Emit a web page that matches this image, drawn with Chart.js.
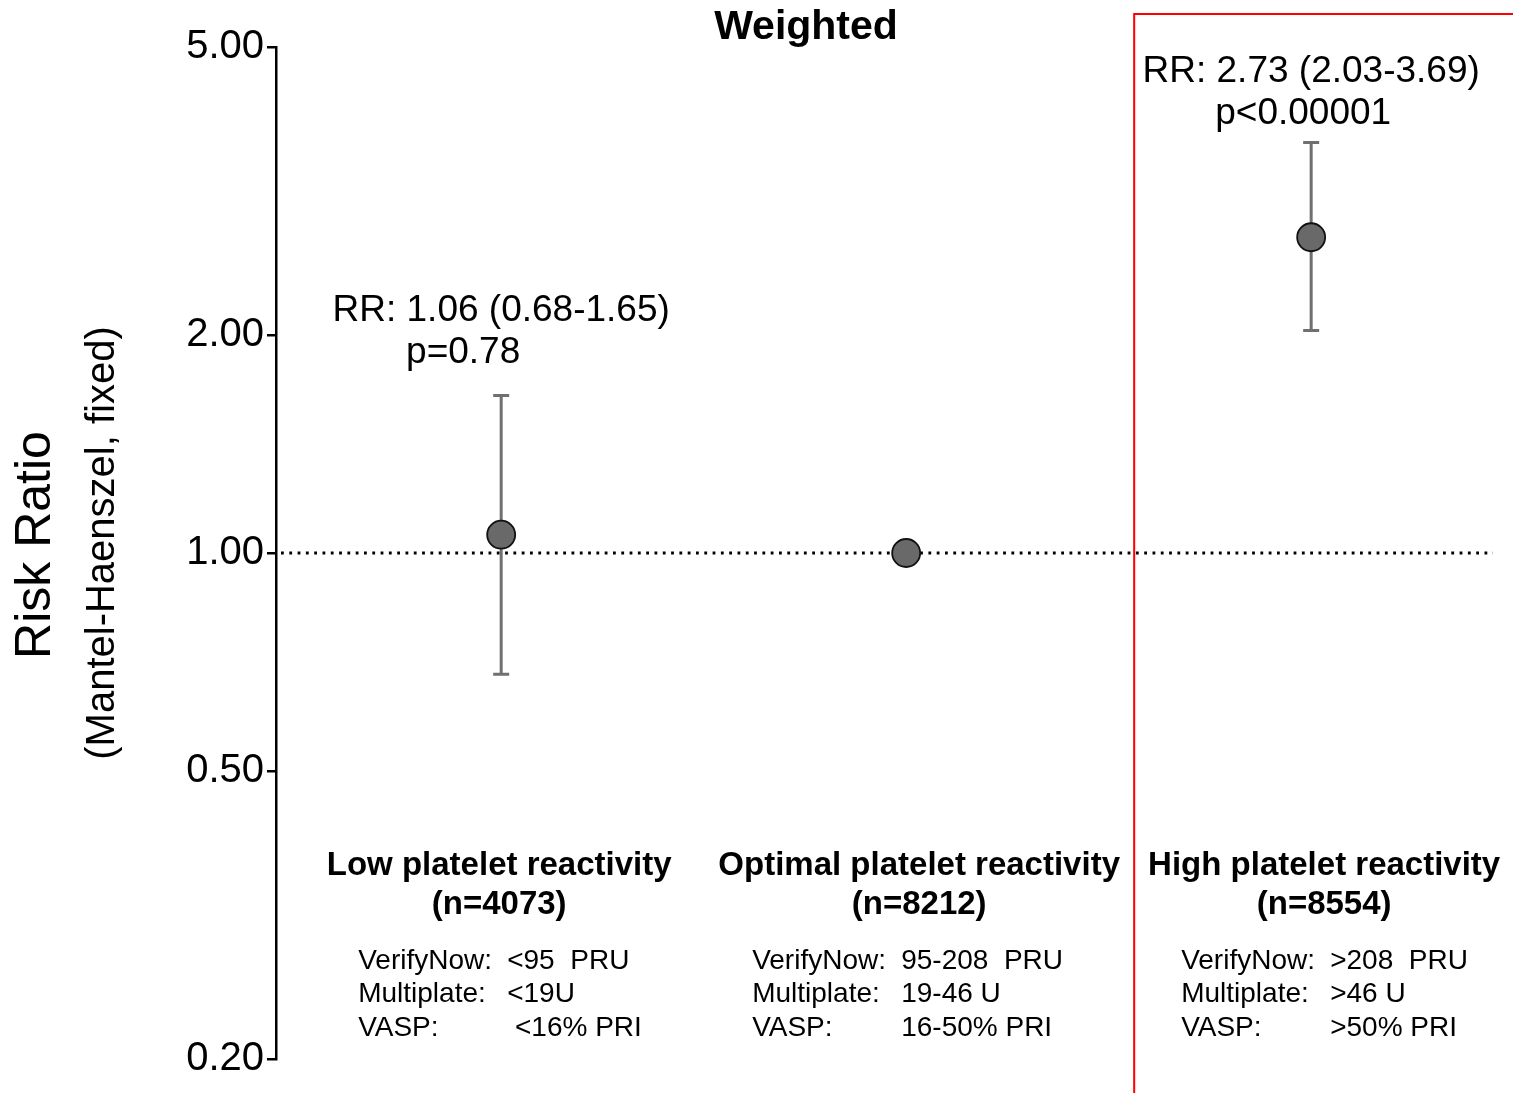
<!DOCTYPE html>
<html>
<head>
<meta charset="utf-8">
<script src="https://cdn.jsdelivr.net/npm/chart.js@4"></script>
<style>
  html, body { margin: 0; padding: 0; background: #fff; }
</style>
</head>
<body>
<canvas id="rrChart" width="1513" height="1093"></canvas>
<script>
// data
const groups = ['Low platelet reactivity', 'Optimal platelet reactivity', 'High platelet reactivity'];
const groupN = ['(n=4073)', '(n=8212)', '(n=8554)'];
const groupPos = [1, 2, 3];
const riskRatio = [1.06, 1.00, 2.73];
const ciLow = [0.68, null, 2.03];
const ciHigh = [1.65, null, 3.69];
const rrText = ['RR: 1.06 (0.68-1.65)', null, 'RR: 2.73 (2.03-3.69)'];
const pText = ['p=0.78', null, 'p<0.00001'];
const yTicks = [0.2, 0.5, 1, 2, 5];
const assayNames = ['VerifyNow:', 'Multiplate:', 'VASP:'];
const assayCuts = [
  ['<95  PRU', '<19U', ' <16% PRI'],
  ['95-208  PRU', '19-46 U', '16-50% PRI'],
  ['>208  PRU', '>46 U', '>50% PRI']
];

// layout helpers (not data)
const FONT = '"Liberation Sans", Arial, Helvetica, sans-serif';
const annotAt = [2.16, null, 4.62];   // y value where the RR line sits
const pShift = [-38, 0, -8];
const labelShift = [-2, 13, 13];
const blockLeft = [-143, -154, -130]; // assay block offset from category centre
const highlightFrom = 2.563;          // x value where the red box starts

const decor = {
  id: 'decor',
  beforeDatasetsDraw(chart) {
    const { ctx, chartArea, scales: { x, y } } = chart;
    ctx.save();
    // dotted reference line at RR = 1
    const y1 = y.getPixelForValue(1);
    ctx.strokeStyle = '#000';
    ctx.lineWidth = 2.8;
    ctx.setLineDash([2.8, 5.5]);
    ctx.beginPath();
    ctx.moveTo(chartArea.left + 5, y1);
    ctx.lineTo(chartArea.right, y1);
    ctx.stroke();
    ctx.setLineDash([]);

    // confidence intervals
    ctx.strokeStyle = '#707070';
    ctx.lineWidth = 3;
    groupPos.forEach((g, i) => {
      if (ciLow[i] == null) return;
      const px = x.getPixelForValue(g);
      const lo = y.getPixelForValue(ciLow[i]);
      const hi = y.getPixelForValue(ciHigh[i]);
      ctx.beginPath();
      ctx.moveTo(px, lo); ctx.lineTo(px, hi);
      ctx.moveTo(px - 8, lo); ctx.lineTo(px + 8, lo);
      ctx.moveTo(px - 8, hi); ctx.lineTo(px + 8, hi);
      ctx.stroke();
    });
    ctx.restore();
  },
  afterDraw(chart) {
    const { ctx, scales: { x, y } } = chart;
    ctx.save();
    ctx.fillStyle = '#000';
    ctx.textAlign = 'center';
    ctx.textBaseline = 'middle';

    // title
    ctx.font = 'bold 41px ' + FONT;
    ctx.fillText('Weighted', 806, 28);

    // y axis title (two sizes)
    ctx.save();
    ctx.translate(36, 545);
    ctx.rotate(-Math.PI / 2);
    ctx.font = '50px ' + FONT;
    ctx.fillText('Risk Ratio', 0, 0);
    ctx.restore();
    ctx.save();
    ctx.translate(103, 543);
    ctx.rotate(-Math.PI / 2);
    ctx.font = '40px ' + FONT;
    ctx.fillText('(Mantel-Haenszel, fixed)', 0, 0);
    ctx.restore();

    // RR / p annotations
    ctx.font = '37px ' + FONT;
    groupPos.forEach((g, i) => {
      if (!rrText[i]) return;
      const px = x.getPixelForValue(g);
      const py = y.getPixelForValue(annotAt[i]);
      ctx.fillText(rrText[i], px, py);
      ctx.fillText(pText[i], px + pShift[i], py + 42);
    });

    // category labels under the axis
    groupPos.forEach((g, i) => {
      const px = x.getPixelForValue(g);
      ctx.textAlign = 'center';
      ctx.font = 'bold 33px ' + FONT;
      ctx.fillText(groups[i], px + labelShift[i], 866);
      ctx.fillText(groupN[i], px + labelShift[i], 905);
      ctx.textAlign = 'left';
      ctx.font = '28px ' + FONT;
      assayNames.forEach((name, k) => {
        const ly = 961 + k * 33.5;
        ctx.fillText(name, px + blockLeft[i], ly);
        ctx.fillText(assayCuts[i][k], px + blockLeft[i] + 149, ly);
      });
    });

    // red highlight box around the high reactivity group
    ctx.strokeStyle = '#ff0000';
    ctx.lineWidth = 2;
    const bx = x.getPixelForValue(highlightFrom);
    ctx.strokeRect(bx, 14, 600, 1200);
    ctx.restore();
  }
};

new Chart(document.getElementById('rrChart'), {
  type: 'scatter',
  data: {
    datasets: [{
      data: groupPos.map((g, i) => ({ x: g, y: riskRatio[i] })),
      pointRadius: 14,
      pointHoverRadius: 14,
      backgroundColor: '#696969',
      borderColor: '#111',
      borderWidth: 1.8
    }]
  },
  options: {
    responsive: false,
    animation: false,
    devicePixelRatio: 1,
    layout: { padding: { top: 47, bottom: 34, right: 20, left: 0 } },
    scales: {
      x: {
        type: 'linear',
        min: 0.444,
        max: 3.449,
        display: false
      },
      y: {
        type: 'logarithmic',
        min: 0.2,
        max: 5,
        afterBuildTicks: (scale) => { scale.ticks = yTicks.map(v => ({ value: v })); },
        afterFit: (scale) => { scale.width = 276; },
        border: { color: '#000', width: 2.5 },
        grid: { drawOnChartArea: false, drawTicks: true, tickLength: 9, color: '#000', lineWidth: 2.5 },
        ticks: {
          color: '#000',
          padding: 3,
          font: { family: FONT, size: 40 },
          callback: (v) => Number(v).toFixed(2)
        }
      }
    },
    plugins: {
      legend: { display: false },
      tooltip: { enabled: false }
    }
  },
  plugins: [decor]
});
</script>
</body>
</html>
